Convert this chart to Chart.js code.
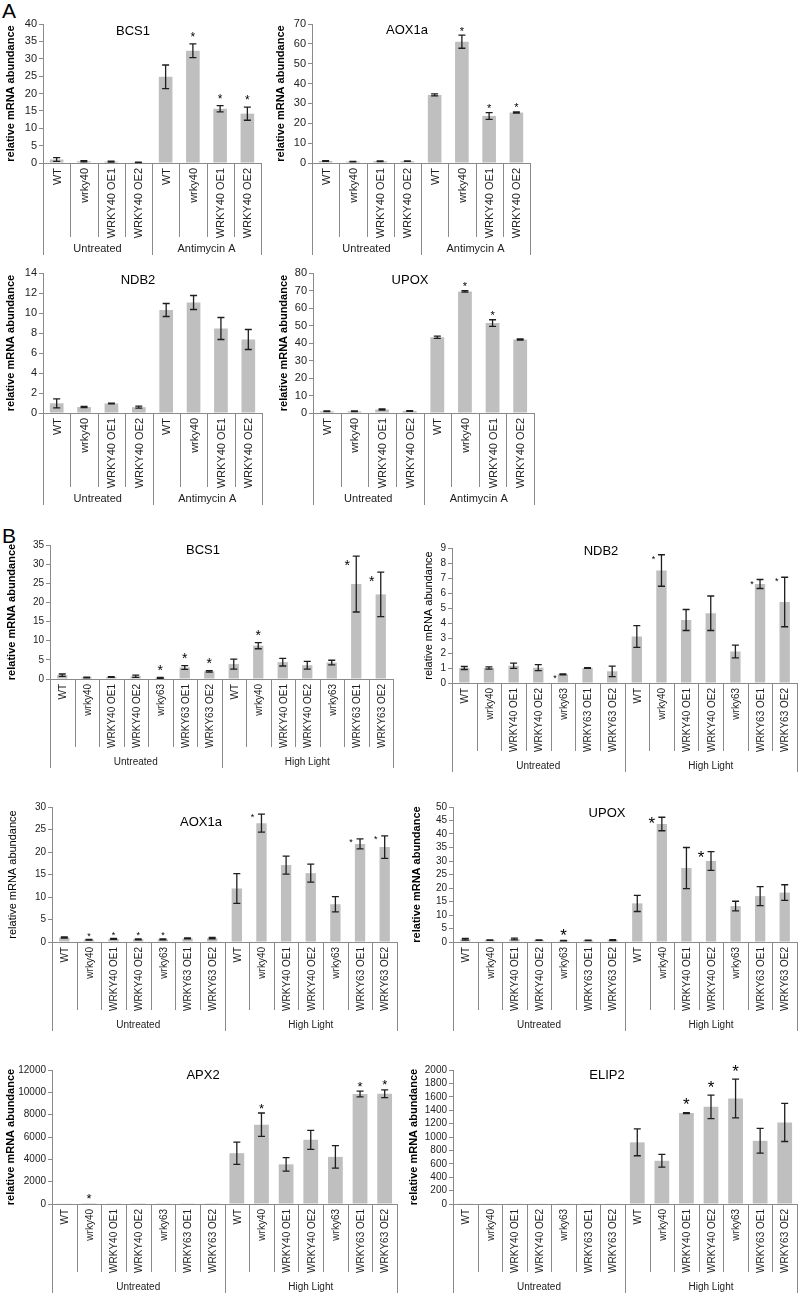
<!DOCTYPE html>
<html><head><meta charset="utf-8">
<script src="https://cdn.jsdelivr.net/npm/chart.js@4.4.0/dist/chart.umd.min.js"></script>
<style>
html,body{margin:0;padding:0;background:#fff}
body{width:799px;height:1295px;position:relative;overflow:hidden;font-family:"Liberation Sans",Arial,sans-serif}
canvas{position:absolute}
.letter{position:absolute;font-size:21px;line-height:21px;color:#000}
</style></head><body>
<div class="letter" style="left:2px;top:0px">A</div>
<div class="letter" style="left:2px;top:525px">B</div>
<script>
// ---------- categories ----------
const CATS_A = ["WT","wrky40","WRKY40 OE1","WRKY40 OE2","WT","wrky40","WRKY40 OE1","WRKY40 OE2"];
const GROUPS_A = ["Untreated","Antimycin A"];
const CATS_B = ["WT","wrky40","WRKY40 OE1","WRKY40 OE2","wrky63","WRKY63 OE1","WRKY63 OE2",
                "WT","wrky40","WRKY40 OE1","WRKY40 OE2","wrky63","WRKY63 OE1","WRKY63 OE2"];
const GROUPS_B = ["Untreated","High Light"];

// ---------- panel A values ----------
const A_BCS1     = [1.0, 0.5, 0.4, 0.2, 24.8, 32.3, 15.6, 14.2];
const A_BCS1_ERR = [0.55, 0.15, 0.12, 0.08, 3.4, 2.0, 0.9, 1.9];
const A_BCS1_SIG = [0,0,0,0,0,1,1,1];

const A_AOX1A     = [1.0, 0.7, 0.9, 0.9, 34.3, 61.1, 23.7, 25.4];
const A_AOX1A_ERR = [0.2, 0.1, 0.15, 0.1, 0.5, 3.3, 1.7, 0.3];
const A_AOX1A_SIG = [0,0,0,0,0,1,1,1];

const A_NDB2     = [0.97, 0.6, 0.95, 0.58, 10.3, 11.05, 8.45, 7.35];
const A_NDB2_ERR = [0.45, 0.05, 0.04, 0.1, 0.65, 0.7, 1.1, 1.0];
const A_NDB2_SIG = [0,0,0,0,0,0,0,0];

const A_UPOX     = [1.0, 1.0, 2.0, 1.2, 43.3, 69.5, 51.4, 42.0];
const A_UPOX_ERR = [0.2, 0.2, 0.3, 0.2, 0.6, 0.4, 1.9, 0.4];
const A_UPOX_SIG = [0,0,0,0,0,1,1,0];

// ---------- panel B values ----------
const B_BCS1     = [1.0, 0.4, 0.5, 0.7, 0.3, 3.0, 2.0, 3.9, 8.7, 4.4, 3.6, 4.3, 24.8, 22.1];
const B_BCS1_ERR = [0.3, 0.1, 0.1, 0.3, 0.1, 0.5, 0.2, 1.3, 0.8, 1.0, 1.0, 0.6, 7.3, 5.8];
const B_BCS1_SIG = [0,0,0,0,1,1,1,0,1,0,0,0,1,1];

const B_NDB2     = [1.0, 1.0, 1.15, 1.02, 0.58, 1.0, 0.78, 3.1, 7.5, 4.2, 4.65, 2.1, 6.6, 5.4];
const B_NDB2_ERR = [0.1, 0.08, 0.17, 0.2, 0.03, 0.03, 0.35, 0.72, 1.05, 0.7, 1.15, 0.42, 0.3, 1.65];
const B_NDB2_SIG = [0,0,0,0,1,0,0,0,1,0,0,0,1,1];

const B_AOX1A     = [1.0, 0.5, 0.7, 0.6, 0.6, 0.8, 0.85, 11.9, 26.4, 17.1, 15.3, 8.4, 21.8, 21.1];
const B_AOX1A_ERR = [0.15, 0.08, 0.1, 0.1, 0.1, 0.1, 0.15, 3.3, 2.0, 2.0, 2.0, 1.7, 1.1, 2.5];
const B_AOX1A_SIG = [0,1,1,1,1,0,0,0,1,0,0,0,1,1];

const B_UPOX     = [1.0, 0.7, 1.1, 0.7, 0.5, 0.6, 0.7, 14.3, 43.7, 27.4, 30.0, 13.3, 17.0, 18.3];
const B_UPOX_ERR = [0.3, 0.1, 0.3, 0.1, 0.1, 0.1, 0.2, 3.0, 2.5, 7.6, 3.5, 1.8, 3.5, 2.9];
const B_UPOX_SIG = [0,0,0,0,1,0,0,0,1,0,1,0,0,0];

const B_APX2     = [30, 10, 25, 15, 20, 25, 15, 4550, 7100, 3550, 5750, 4220, 9850, 9870];
const B_APX2_ERR = [0, 0, 0, 0, 0, 0, 0, 1000, 1050, 600, 850, 1000, 250, 350];
const B_APX2_SIG = [0,1,0,0,0,0,0,0,1,0,0,0,1,1];

const B_ELIP2     = [5, 5, 5, 5, 5, 5, 5, 920, 645, 1357, 1450, 1575, 943, 1218];
const B_ELIP2_ERR = [0, 0, 0, 0, 0, 0, 0, 200, 95, 8, 175, 290, 185, 285];
const B_ELIP2_SIG = [0,0,0,0,0,0,0,0,0,1,1,1,0,0];

const Y_TITLE = "relative mRNA abundance";

// ---------- chart list (content) ----------
const CHARTS = [
  {id:"A1", title:"BCS1",  cats:CATS_A, groups:GROUPS_A, values:A_BCS1,  errors:A_BCS1_ERR,  sig:A_BCS1_SIG},
  {id:"A2", title:"AOX1a", cats:CATS_A, groups:GROUPS_A, values:A_AOX1A, errors:A_AOX1A_ERR, sig:A_AOX1A_SIG},
  {id:"A3", title:"NDB2",  cats:CATS_A, groups:GROUPS_A, values:A_NDB2,  errors:A_NDB2_ERR,  sig:A_NDB2_SIG},
  {id:"A4", title:"UPOX",  cats:CATS_A, groups:GROUPS_A, values:A_UPOX,  errors:A_UPOX_ERR,  sig:A_UPOX_SIG},
  {id:"B1", title:"BCS1",  cats:CATS_B, groups:GROUPS_B, values:B_BCS1,  errors:B_BCS1_ERR,  sig:B_BCS1_SIG},
  {id:"B2", title:"NDB2",  cats:CATS_B, groups:GROUPS_B, values:B_NDB2,  errors:B_NDB2_ERR,  sig:B_NDB2_SIG},
  {id:"B3", title:"AOX1a", cats:CATS_B, groups:GROUPS_B, values:B_AOX1A, errors:B_AOX1A_ERR, sig:B_AOX1A_SIG},
  {id:"B4", title:"UPOX",  cats:CATS_B, groups:GROUPS_B, values:B_UPOX,  errors:B_UPOX_ERR,  sig:B_UPOX_SIG},
  {id:"B5", title:"APX2",  cats:CATS_B, groups:GROUPS_B, values:B_APX2,  errors:B_APX2_ERR,  sig:B_APX2_SIG},
  {id:"B6", title:"ELIP2", cats:CATS_B, groups:GROUPS_B, values:B_ELIP2, errors:B_ELIP2_ERR, sig:B_ELIP2_SIG}
];

// ---------- layout / styles ----------
const A_STY = {tick:11, cat:11, grp:11, d1:74, d2:92, gy:86, labGap:5, barPct:0.5};
const B_STY = {tick:10, cat:10, grp:10, d1:68, d2:89, gy:83, labGap:5, barPct:0.42};
const LAYOUT = {
  A1:{...A_STY, left:0,   top:0,    w:268, h:262, x0:43,  x1:261, y0:24,   y1:163,  max:40,    step:5,    tx:133, ty:31,   ylabX:11,  bold:true,
      star:{size:12, gap:10, left:[], dx:0, dy:0}},
  A2:{...A_STY, left:268, top:0,    w:272, h:262, x0:312, x1:530, y0:24,   y1:163,  max:70,    step:10,   tx:407, ty:30,   ylabX:281, bold:true,
      star:{size:11, gap:7, left:[], dx:0, dy:0}},
  A3:{...A_STY, left:0,   top:262,  w:268, h:250, x0:43,  x1:262, y0:273,  y1:413,  max:14,    step:2,    tx:138, ty:280,  ylabX:11,  bold:true,
      star:{size:11, gap:7, left:[], dx:0, dy:0}},
  A4:{...A_STY, left:268, top:262,  w:272, h:250, x0:313, x1:534, y0:273,  y1:413,  max:80,    step:10,   tx:410, ty:280,  ylabX:284, bold:true,
      star:{size:11, gap:7, left:[], dx:0, dy:0}},
  B1:{...B_STY, left:0,   top:520,  w:400, h:260, x0:50,  x1:393, y0:545,  y1:679,  max:35,    step:5,    tx:203, ty:550,  ylabX:12,  bold:true,
      star:{size:14, gap:11, left:[12,13], dx:9, dy:6}},
  B2:{...B_STY, left:400, top:520,  w:399, h:260, x0:452, x1:797, y0:548,  y1:683,  max:9,     step:1,    tx:601, ty:551,  ylabX:429, bold:false,
      star:{size:9, gap:6, left:[4,8,12,13], dx:8, dy:2}},
  B3:{...B_STY, left:0,   top:780,  w:400, h:258, x0:52,  x1:397, y0:807,  y1:942,  max:30,    step:5,    tx:201, ty:822,  ylabX:13,  bold:false,
      star:{size:9, gap:6, left:[8,12,13], dx:9, dy:1}},
  B4:{...B_STY, left:400, top:780,  w:399, h:258, x0:453, x1:797, y0:807,  y1:942,  max:50,    step:5,    tx:607, ty:813,  ylabX:417, bold:true,
      star:{size:17, gap:9, left:[8,10], dx:10, dy:2}},
  B5:{...B_STY, left:0,   top:1040, w:400, h:255, x0:52,  x1:397, y0:1070, y1:1204, max:12000, step:2000, tx:203, ty:1075, ylabX:11,  bold:true, barPct:0.6,
      star:{size:13, gap:8, left:[], dx:0, dy:0}},
  B6:{...B_STY, left:400, top:1040, w:399, h:255, x0:453, x1:797, y0:1070, y1:1204, max:2000,  step:200,  tx:607, ty:1075, ylabX:414, bold:true, barPct:0.6,
      star:{size:17, gap:12, left:[], dx:0, dy:0}}
};

const FONT = "'Liberation Sans', Arial, sans-serif";
const BAR = "#bfbfbf";
const AXIS = "#8a8a8a";
const INK = "#1e1e1e";
Chart.defaults.font.family = FONT;

const deco = {
  id: "deco",
  afterDraw(chart, args, o) {
    const ctx = chart.ctx, xs = chart.scales.x, ys = chart.scales.y;
    const meta = chart.getDatasetMeta(0);
    const vals = chart.data.datasets[0].data;
    const n = chart.data.labels.length;
    const half = (xs.getPixelForValue(1) - xs.getPixelForValue(0)) / 2;
    const start = xs.getPixelForValue(0) - half;
    const base = ys.getPixelForValue(0);
    ctx.save();
    // error bars
    ctx.strokeStyle = INK; ctx.lineWidth = 1.3;
    const capTops = [];
    vals.forEach((v, i) => {
      const e = o.errors[i] || 0;
      const x = meta.data[i].x;
      const yt = ys.getPixelForValue(v + e);
      const yb = ys.getPixelForValue(Math.max(0, v - e));
      capTops.push(yt);
      if (!e) return;
      ctx.beginPath();
      ctx.moveTo(x, yt); ctx.lineTo(x, yb);
      ctx.moveTo(x - 3.5, yt); ctx.lineTo(x + 3.5, yt);
      ctx.moveTo(x - 3.5, yb); ctx.lineTo(x + 3.5, yb);
      ctx.stroke();
    });
    // significance stars
    const st = o.star;
    ctx.fillStyle = "#000";
    ctx.font = st.size + "px " + FONT;
    ctx.textAlign = "center"; ctx.textBaseline = "alphabetic";
    o.sig.forEach((s, i) => {
      if (!s) return;
      const x = meta.data[i].x;
      if (st.left.indexOf(i) >= 0) {
        ctx.fillText("*", x - st.dx, capTops[i] + st.dy + 0.58 * st.size);
      } else {
        ctx.fillText("*", x, capTops[i] - st.gap + 0.58 * st.size);
      }
    });
    // category labels (rotated)
    ctx.fillStyle = "#222";
    ctx.font = o.cat + "px " + FONT;
    chart.data.labels.forEach((l, i) => {
      ctx.save();
      ctx.translate(xs.getPixelForValue(i) + 1, base + o.labGap);
      ctx.rotate(-Math.PI / 2);
      ctx.textAlign = "right"; ctx.textBaseline = "middle";
      ctx.fillText(l, 0, 0);
      ctx.restore();
    });
    // dividers
    const gsize = n / o.groups.length;
    ctx.strokeStyle = AXIS; ctx.lineWidth = 1;
    for (let i = 0; i <= n; i++) {
      const x = Math.round(start + i * 2 * half) + 0.5;
      const isG = i % gsize === 0;
      ctx.beginPath();
      ctx.moveTo(x, base);
      ctx.lineTo(x, base + (isG ? o.d2 : o.d1));
      ctx.stroke();
    }
    // group labels
    ctx.fillStyle = "#222";
    ctx.font = o.grp + "px " + FONT;
    ctx.textAlign = "center"; ctx.textBaseline = "middle";
    o.groups.forEach((g, k) => {
      const cx = start + (k + 0.5) * gsize * 2 * half;
      ctx.fillText(g, cx, base + o.gy);
    });
    // chart title
    ctx.fillStyle = "#000";
    ctx.font = "13px " + FONT;
    ctx.fillText(o.title, o.tx, o.ty);
    ctx.restore();
  }
};

CHARTS.forEach(c => {
  const L = LAYOUT[c.id];
  const cv = document.createElement("canvas");
  cv.width = L.w; cv.height = L.h;
  cv.style.left = L.left + "px"; cv.style.top = L.top + "px";
  cv.style.width = L.w + "px"; cv.style.height = L.h + "px";
  document.body.appendChild(cv);
  const ylabFont = {size: 11, weight: L.bold ? "bold" : "normal", family: FONT};
  const ylabOffset = L.ylabX - L.left - 11 * 1.2 / 2;
  new Chart(cv, {
    type: "bar",
    data: {
      labels: c.cats,
      datasets: [{data: c.values, backgroundColor: BAR, borderWidth: 0,
                  barPercentage: L.barPct, categoryPercentage: 1}]
    },
    options: {
      responsive: false, animation: false, devicePixelRatio: 1,
      layout: {padding: {left: 0, top: L.y0 - L.top, right: L.left + L.w - L.x1, bottom: 0}},
      plugins: {
        legend: {display: false}, tooltip: {enabled: false}, title: {display: false},
        deco: {errors: c.errors, sig: c.sig, star: L.star, groups: c.groups, title: c.title,
               tx: L.tx - L.left, ty: L.ty - L.top, cat: L.cat, grp: L.grp,
               d1: L.d1, d2: L.d2, gy: L.gy, labGap: L.labGap}
      },
      scales: {
        x: {
          grid: {display: false}, ticks: {display: false},
          border: {display: true, color: AXIS, width: 1},
          afterFit: s => { s.height = L.top + L.h - L.y1; }
        },
        y: {
          min: 0, max: L.max,
          ticks: {stepSize: L.step, autoSkip: false, color: "#222", padding: 2,
                  font: {size: L.tick, family: FONT}, callback: v => String(v)},
          grid: {drawOnChartArea: false, drawTicks: true, tickLength: 4, color: AXIS},
          border: {display: true, color: AXIS, width: 1},
          title: {display: true, text: Y_TITLE, color: "#000", font: ylabFont,
                  padding: {top: ylabOffset, bottom: 0}},
          afterFit: s => { s.width = L.x0 - L.left; }
        }
      }
    },
    plugins: [deco]
  });
});
</script>
</body></html>
